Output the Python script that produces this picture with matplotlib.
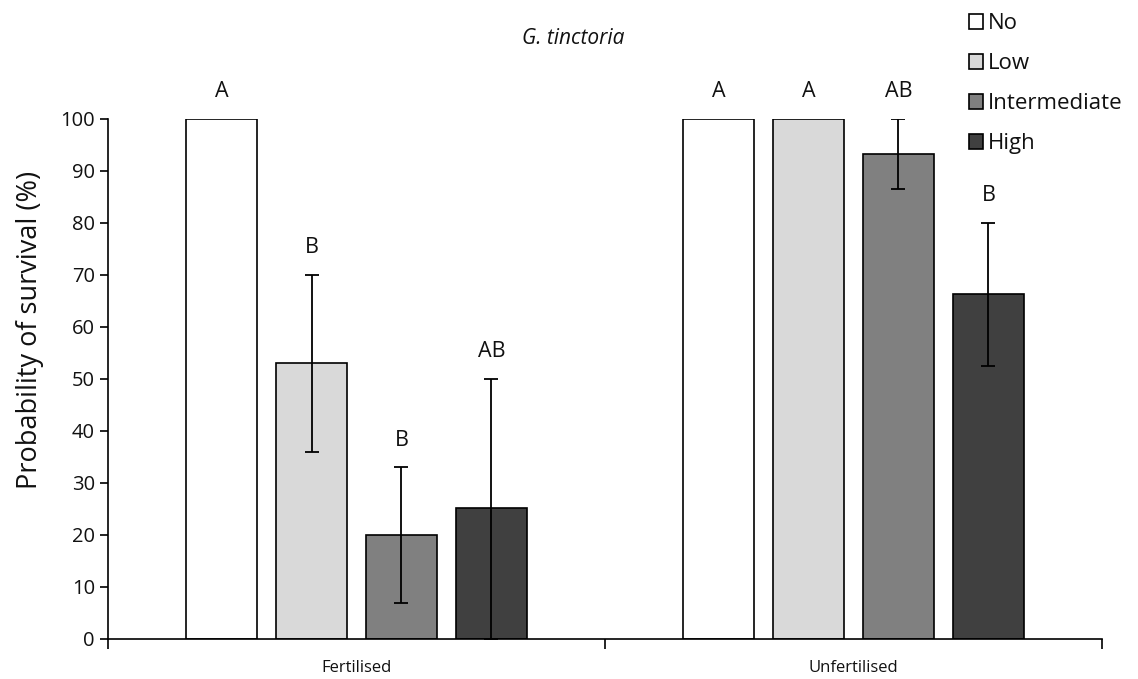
import matplotlib
matplotlib.use("Agg")
import matplotlib.pyplot as plt
import numpy as np
from matplotlib.patches import Patch

plt.rcParams['font.family'] = ['Open Sans', 'DejaVu Sans']

groups = ["Fertilised", "Unfertilised"]
levels = ["No", "Low", "Intermediate", "High"]
colors = ["#ffffff", "#d9d9d9", "#808080", "#404040"]
# values[level][group]
values = {
    "No": [100, 100],
    "Low": [53, 100],
    "Intermediate": [20, 93.3],
    "High": [25.2, 66.3],
}
err_low = {
    "No": [None, None],
    "Low": [36, None],
    "Intermediate": [7, 86.5],
    "High": [0, 52.5],
}
err_high = {
    "No": [None, None],
    "Low": [70, None],
    "Intermediate": [33, 100],
    "High": [50, 80],
}
letters = {
    "No": ["A", "A"],
    "Low": ["B", "A"],
    "Intermediate": ["B", "AB"],
    "High": ["AB", "B"],
}

fig = plt.figure(figsize=(11.38, 6.79), dpi=100)
ax = fig.add_axes([108/1138, 1-639/679, (1102-108)/1138, (639-119)/679])

width = 0.143
step = 0.181
centers = np.arange(len(groups)) + 0.5
for i, lev in enumerate(levels):
    xs = centers + (i - 1.5) * step
    ax.bar(xs, values[lev], width=width, color=colors[i], edgecolor="black",
           linewidth=1.2, zorder=2)
    for j, x in enumerate(xs):
        lo, hi = err_low[lev][j], err_high[lev][j]
        v = values[lev][j]
        if lo is not None:
            ax.errorbar([x], [v], yerr=[[v - lo], [hi - v]], fmt="none",
                        ecolor="black", elinewidth=1.3, capsize=5, capthick=1.3,
                        zorder=3)
            top = hi
        else:
            top = v
        ax.text(x, top + 5.2, letters[lev][j], ha="center", va="center",
                fontsize=15.5, color="#111111", clip_on=False)

ax.set_xlim(0, 2)
ax.set_ylim(0, 100)
ax.set_yticks(np.arange(0, 101, 10))
ax.tick_params(axis="y", labelsize=14.5, direction="out", length=6, width=1.2,
               labelcolor="#111111")
ax.set_xticks([0, 1, 2])
ax.set_xticklabels([])
ax.tick_params(axis="x", which="major", direction="out", length=7, width=1.2)
ax.set_xticks(centers, minor=True)
ax.set_xticklabels(groups, minor=True, fontsize=12, color="#111111")
ax.tick_params(axis="x", which="minor", length=0, pad=15)

for s in ["top", "right"]:
    ax.spines[s].set_visible(False)
ax.spines["left"].set_linewidth(1.2)
ax.spines["bottom"].set_linewidth(1.2)

ax.set_ylabel("Probability of survival (%)", fontsize=19.5, color="#111111")
ax.yaxis.set_label_coords((44 - 108) / 994, (639 - 330) / 520)

fig.text(573/1138, 1-38/679, "G. tinctoria", ha="center", va="center",
         fontsize=15, style="italic", color="#111111")

handles = [Patch(facecolor=c, edgecolor="black", linewidth=1.2) for c in colors]
fig.legend(handles, levels, loc="upper left", bbox_to_anchor=(960/1138, 1-4/679),
           frameon=False, fontsize=16, handlelength=0.65, handleheight=0.65,
           handletextpad=0.2, labelspacing=0.86, borderaxespad=0,
           labelcolor="#111111")

fig.savefig("out.png", dpi=100)
